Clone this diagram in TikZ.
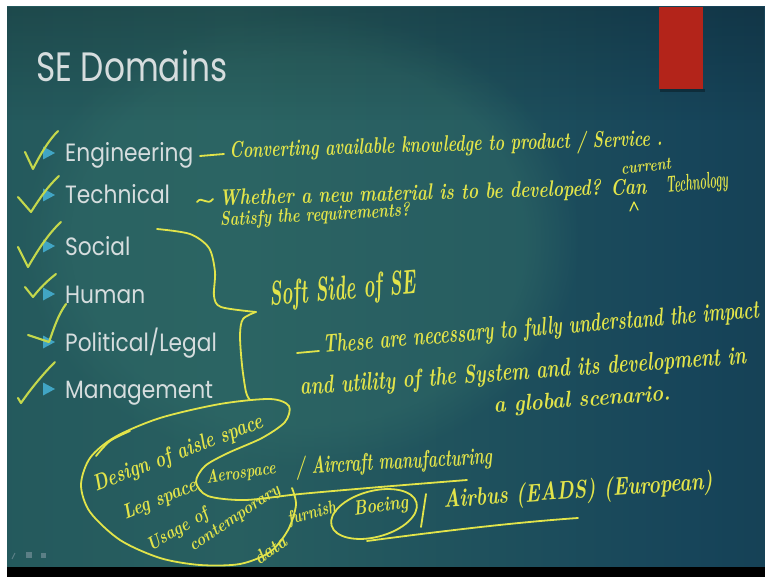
\documentclass[tikz,border=0pt]{standalone}
\usepackage{fontspec}
\usepackage{graphicx}
\newfontfamily\slidefont{Poppins}
\usetikzlibrary{fadings,shapes.geometric}
\definecolor{bgA}{HTML}{1E5058}
\definecolor{bgB}{HTML}{285F60}
\definecolor{bgC}{HTML}{17455A}
\definecolor{bgD}{HTML}{0E3042}
\definecolor{glow}{HTML}{2F6966}
\definecolor{ink}{HTML}{E2E44A}
\definecolor{tick}{HTML}{C4D84C}
\definecolor{itemtxt}{HTML}{D6DDDE}
\definecolor{bul}{HTML}{41A5C4}
\definecolor{redbar}{HTML}{B3241A}
\definecolor{faint}{HTML}{5B7F86}
\pgfdeclarehorizontalshading{slidebg}{100bp}{color(0bp)=(bgA); color(40bp)=(bgB); color(70bp)=(bgC); color(100bp)=(bgD)}
\newcommand\hw[3]{\resizebox{#1pt}{#2pt}{#3}}
\tikzset{
  item/.style={anchor=base west, inner sep=0pt, text=itemtxt, font=\slidefont\fontsize{25}{25}\selectfont, xscale=0.87},
  hw/.style={inner sep=0pt, text=ink, font=\fontsize{12}{12}\selectfont\bfseries\itshape},
  ink line/.style={draw=ink, line width=1.8pt, line cap=round, line join=round},
  tick line/.style={draw=tick, line width=2.1pt, line cap=round, line join=round},
}
\begin{document}
\begin{tikzpicture}[x=1pt, y=-1pt]
\useasboundingbox (0,0) rectangle (765,577);
% background
\fill[white] (0,0) rectangle (765,577);
\shade[shading=slidebg] (7,7) rectangle (765,567);
\fill[glow, path fading=circle with fuzzy edge 20 percent, fill opacity=0.55] (300,240) ellipse (280pt and 230pt);
\fill[black, path fading=south, fill opacity=0.18] (7,7) rectangle (765,120);
\fill[black] (7,567) rectangle (765,577);
% red bar
\fill[black, fill opacity=0.3] (660,89) rectangle (705,92);
\fill[redbar] (659,7) rectangle (703,89);
% faint slide controls
\draw[faint, line width=1pt] (12,559) -- (15,553);
\fill[faint] (26,552) rectangle (32,558);
\fill[faint] (41,553) rectangle (46,558);
% title
\node[anchor=base west, inner sep=0pt, text=itemtxt, font=\slidefont\fontsize{41}{41}\selectfont, xscale=0.8] (title) at (36,82) {SE Domains};
% items
\node[item] (i1) at (65,162) {Engineering};
\node[item] (i2) at (65,204) {Technical};
\node[item] (i3) at (65,255) {Social};
\node[item] (i4) at (65,303) {Human};
\node[item] (i5) at (65,351) {Political/Legal};
\node[item] (i6) at (65,398) {Management};
% bullets
\foreach \yy in {153,195,246,294,342,389}{
  \fill[bul] (43,\yy-6.5) -- (55,\yy) -- (43,\yy+6.5) -- cycle;
}
% check marks
\draw[tick line] (25,152) -- (33,169) .. controls (40,155) and (48,141) .. (58,131);
\draw[tick line] (18,197) -- (31,212) .. controls (40,198) and (48,186) .. (59,176);
\draw[tick line] (18,247) -- (28,267) .. controls (38,250) and (48,234) .. (61,222);
\draw[tick line] (25,287) -- (33,297) .. controls (40,288) and (47,281) .. (56,274);
\draw[tick line] (28,335) -- (49,342) .. controls (54,328) and (58,315) .. (66,304);
\draw[tick line] (18,398) -- (21,403) .. controls (30,390) and (42,375) .. (55,362);
% handwriting, right side
\draw[ink line] (200,156) -- (224,154);
\node[hw, rotate=1.6] (h1) at (446,146) {\hw{433}{17}{Converting available knowledge to product / Service .}};
\draw[ink line] (197,202) .. controls (202,195) and (207,207) .. (213,199);
\node[hw, rotate=1.5] (h2) at (433,194) {\hw{427}{16}{Whether a new material is to be developed? Can}};
\node[hw, rotate=6] (h2a) at (646,166) {\hw{50}{11}{current}};
\node[hw, rotate=6] (h2b) at (697,184) {\hw{62}{16}{Technology}};
\draw[ink line, line width=1.3pt] (630,211) -- (634,202) -- (638,210);
\node[hw, rotate=3] (h3) at (315,216) {\hw{190}{14}{Satisfy the requirements?}};
% brace
\draw[ink line] plot[smooth] coordinates {(157,229) (190,234) (209,248) (215,272) (214,296) (221,307) (256,312)};
\draw[ink line] plot[smooth] coordinates {(256,312) (243,319) (240,335) (242,365) (246,392) (250,400)};
\node[hw, rotate=5] (h4) at (343,291) {\hw{147}{24}{Soft Side of SE}};
\draw[ink line] (297,353) -- (319,351);
\node[hw, rotate=4.6] (h5) at (541,329) {\hw{437}{18}{These are necessary to fully understand the impact}};
\node[hw, rotate=4] (h6) at (523,373) {\hw{447}{18}{and utility of the System and its development in}};
\node[hw, rotate=4] (h7) at (582,401) {\hw{177}{16}{a global scenario.}};
% bottom handwriting
\node[hw, rotate=21] (h8) at (178,454) {\hw{180}{16}{Design of aisle space}};
\node[hw, rotate=22] (h9) at (160,500) {\hw{78}{14}{Leg space}};
\node[hw, rotate=8] (h10) at (241,474) {\hw{70}{13}{Aerospace}};
\node[hw, rotate=3] (h11) at (394,463) {\hw{196}{18}{/ Aircraft manufacturing}};
\node[hw, rotate=30] (h12) at (178,530) {\hw{68}{13}{Usage of}};
\node[hw, rotate=34] (h13) at (235,519) {\hw{106}{11}{contemporary}};
\node[hw, rotate=36] (h14) at (270,550) {\hw{36}{13}{data}};
\node[hw, rotate=15] (h15) at (312,514) {\hw{50}{13}{furnish}};
\node[hw, rotate=8] (h16) at (381,507) {\hw{55}{14}{Boeing}};
\node[draw=ink, line width=1.8pt, ellipse, minimum width=88pt, minimum height=46pt, rotate=15] (boe) at (374,514) {};
\draw[ink line] (421,527) -- (426,494);
\node[hw, rotate=4] (h17) at (578,492) {\hw{270}{19}{Airbus (EADS) (European)}};
\draw[ink line] (367,541) .. controls (450,530) and (520,522) .. (578,518);
% big loop
\draw[ink line] plot[smooth] coordinates {(292,488) (296,505) (288,530) (270,552) (240,564) (200,565) (160,558) (120,540) (90,512) (81,485) (90,458) (115,437) (160,418) (220,404) (270,399) (289,406) (285,422) (262,438) (228,453) (205,466) (196,482) (208,496) (245,500) (300,494) (380,487) (467,480)};
\draw[ink line] plot[smooth] coordinates {(96,456) (110,441) (130,431)};
\end{tikzpicture}
\end{document}
